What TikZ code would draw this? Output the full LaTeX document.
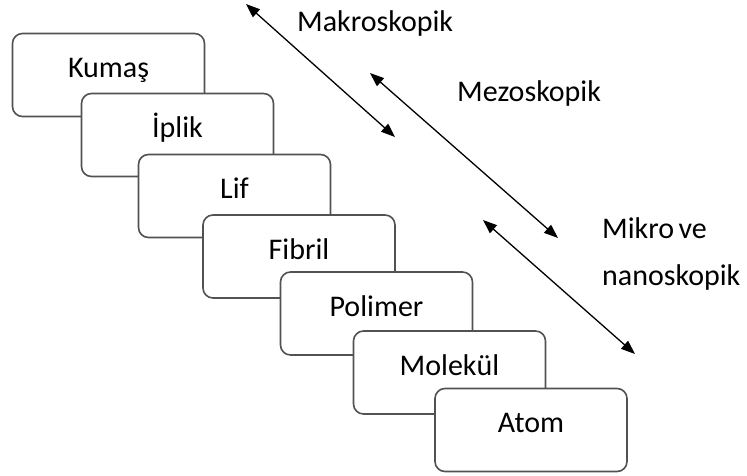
\documentclass[tikz,border=0pt]{standalone}
\usepackage{fontspec}
\setmainfont{Carlito}
\usetikzlibrary{arrows.meta}
\begin{document}
\begin{tikzpicture}[x=1pt,y=-1pt,
  box/.style={draw=black!68, line width=1.6pt, fill=white, rounded corners=10pt,
    minimum width=192pt, minimum height=83pt, inner sep=0pt, outer sep=0pt},
  boxtext/.style={anchor=base, inner sep=0pt, font=\fontsize{30}{36}\selectfont},
  lbl/.style={anchor=base west, inner sep=0pt, font=\fontsize{30}{36}\selectfont},
  scale arrow/.style={{Triangle[length=14pt,width=10.5pt]}-{Triangle[length=14pt,width=10.5pt]}, line width=1.3pt}]
\useasboundingbox (0,0) rectangle (747,476);
% boxes, back to front
\node[box] (b1) at (108.5,75) {};
\node[boxtext] (t1) at (108.5,77.5) {Kumaş};
\node[box] (b2) at (177.5,135) {};
\node[boxtext] (t2) at (177.5,137.5) {İplik};
\node[box] (b3) at (234.5,196) {};
\node[boxtext] (t3) at (234.5,198.5) {Lif};
\node[box] (b4) at (299,256.5) {};
\node[boxtext] (t4) at (299,259) {Fibril};
\node[box] (b5) at (376.5,313.5) {};
\node[boxtext] (t5) at (376.5,316) {Polimer};
\node[box] (b6) at (449.5,372.5) {};
\node[boxtext] (t6) at (449.5,375) {Molekül};
\node[box] (b7) at (531,430) {};
\node[boxtext] (t7) at (531,432.5) {Atom};
% scale arrows
\coordinate (a1s) at (246,4);
\coordinate (a1e) at (395,137);
\coordinate (a2s) at (370,73);
\coordinate (a2e) at (558,238);
\coordinate (a3s) at (483,220);
\coordinate (a3e) at (635,354);
\draw[scale arrow] (a1s) -- (a1e);
\draw[scale arrow] (a2s) -- (a2e);
\draw[scale arrow] (a3s) -- (a3e);
% labels
\node[lbl] (l1) at (297,32) {Makroskopik};
\node[lbl] (l2) at (457,102) {Mezoskopik};
\node[lbl] (l3a) at (602,238) {Mikro\hspace{0.15em}ve};
\node[lbl] (l3b) at (602,285) {nanoskopik};
\end{tikzpicture}
\end{document}
